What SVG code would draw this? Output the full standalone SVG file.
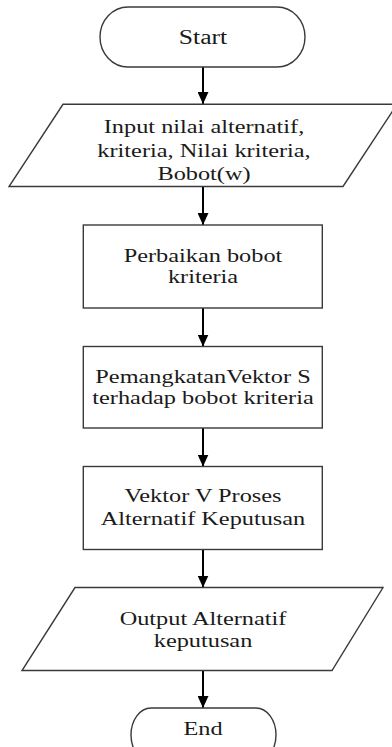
<svg xmlns="http://www.w3.org/2000/svg" width="392" height="747" viewBox="0 0 392 747">
  <defs>
    <style>
      .shape { fill: #ffffff; stroke: #3a3a3a; stroke-width: 1.4; }
      .label { font-family: 'Liberation Serif', 'DejaVu Serif', serif; font-size: 19px; fill: #1a1a1a; text-anchor: middle; }
      .edge { stroke: #000000; stroke-width: 2; fill: none; marker-end: url(#arrow); }
    </style>
    <marker id="arrow" viewBox="0 0 12 11" refX="12" refY="5.5" markerWidth="12" markerHeight="11" markerUnits="userSpaceOnUse" orient="auto">
      <path d="M0,0 L12,5.5 L0,11 Z" fill="#000000"/>
    </marker>
  </defs>

  <rect width="392" height="747" fill="#ffffff"/>

  <!-- connectors -->
  <g id="connectors">
    <line class="edge" x1="203" y1="67" x2="203" y2="104"/>
    <line class="edge" x1="203" y1="186" x2="203" y2="225"/>
    <line class="edge" x1="203" y1="308" x2="203" y2="346.5"/>
    <line class="edge" x1="203" y1="428" x2="203" y2="466.5"/>
    <line class="edge" x1="203" y1="549.5" x2="203" y2="587.5"/>
    <line class="edge" x1="203" y1="670.5" x2="203" y2="708"/>
  </g>

  <!-- start terminal -->
  <g id="start">
    <rect class="shape" x="100" y="7" width="205" height="60" rx="28" ry="30"/>
    <text class="label" font-family="Liberation Serif, DejaVu Serif, serif" style="font-size:20px" transform="translate(203 44) scale(1.28 1)">Start</text>
  </g>

  <!-- input data -->
  <g id="input">
    <polygon class="shape" points="63,104.3 397,104.3 343,186.5 9,186.5"/>
    <g class="label" font-family="Liberation Serif, DejaVu Serif, serif" transform="translate(204 0) scale(1.28 1)">
      <text x="0" y="132.7">Input nilai alternatif,</text>
      <text x="0" y="156.7">kriteria, Nilai kriteria,</text>
      <text x="0" y="180.3">Bobot(w)</text>
    </g>
  </g>

  <!-- weight correction -->
  <g id="perbaikan">
    <rect class="shape" x="83.3" y="225" width="239" height="83"/>
    <g class="label" transform="translate(203 0) scale(1.28 1)">
      <text x="0" y="261.7">Perbaikan bobot</text>
      <text x="0" y="283.3">kriteria</text>
    </g>
  </g>

  <!-- vector S -->
  <g id="vektor-s">
    <rect class="shape" x="83.3" y="346.5" width="239" height="81.5"/>
    <g class="label" transform="translate(203 0) scale(1.28 1)">
      <text x="0" y="383.3">PemangkatanVektor S</text>
      <text x="0" y="404.3">terhadap bobot kriteria</text>
    </g>
  </g>

  <!-- vector V -->
  <g id="vektor-v">
    <rect class="shape" x="83.3" y="466.5" width="239" height="83"/>
    <g class="label" transform="translate(203 0) scale(1.28 1)">
      <text x="0" y="502.3">Vektor V Proses</text>
      <text x="0" y="525">Alternatif Keputusan</text>
    </g>
  </g>

  <!-- output -->
  <g id="output">
    <polygon class="shape" points="75,587.5 383,587.5 332,670.5 22,670.5"/>
    <g class="label" transform="translate(203 0) scale(1.28 1)">
      <text x="0" y="625">Output Alternatif</text>
      <text x="0" y="646.7">keputusan</text>
    </g>
  </g>

  <!-- end terminal -->
  <g id="end">
    <rect class="shape" x="131" y="708" width="145" height="54" rx="20" ry="27"/>
    <text class="label" transform="translate(203 735) scale(1.28 1)">End</text>
  </g>
</svg>
